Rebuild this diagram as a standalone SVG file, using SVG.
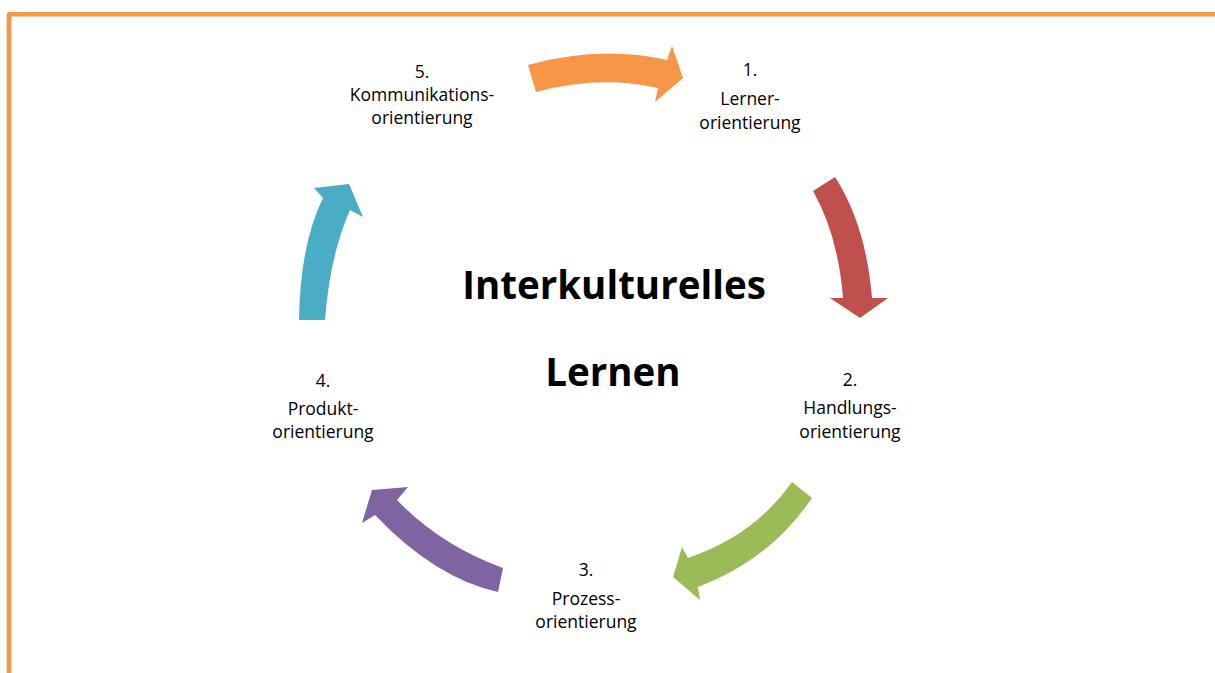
<svg xmlns="http://www.w3.org/2000/svg" width="1215" height="673" viewBox="0 0 1215 673">
<style>
.lbl{font-family:"Open Sans","Liberation Sans",sans-serif;font-size:17.5px;fill:#000;text-anchor:middle}
.title{font-family:"Open Sans","Liberation Sans",sans-serif;font-size:38.5px;font-weight:bold;fill:#000;text-anchor:middle}
</style>
<rect width="1215" height="673" fill="#fff"/>
<path d="M9,673 L9,14.3 L1215,14.3" fill="none" stroke="#F79646" stroke-width="4.6" stroke-linejoin="round"/>
<g id="connectors">
<path id="arrow-5-1" d="M528,65 Q600,45 667,60 L672,46 L683,78 L655,102 L658,88 Q600,75 536,92 Z" fill="#F79646"/>
<path id="arrow-1-2" d="M835,177 Q866,225 872,298 L888,298 L860,318 L830,298 L843,298 Q838,235 813,191 Z" fill="#C0504D"/>
<path id="arrow-2-3" d="M812,498 Q770,560 698,587 L700,600 L673,577 L682,547 L688,558 Q755,535 792,482 Z" fill="#9BBB59"/>
<path id="arrow-3-4" d="M503,568 Q440,545 397,500 L408,487 L372,490 L362,523 L375,515 Q435,578 498,592 Z" fill="#8064A2"/>
<path id="arrow-4-5" d="M299,320 Q300,245 323,198 L314,188 L349,184 L363,217 L350,210 Q330,255 325,320 Z" fill="#4BACC6"/>
</g>
<g id="center">
<text class="title" x="614" y="299">Interkulturelles</text>
<text class="title" x="613" y="386">Lernen</text>
</g>
<g id="node1">
<text class="lbl" x="750" y="76">1.</text>
<text class="lbl" x="750" y="105">Lerner-</text>
<text class="lbl" x="750" y="129">orientierung</text>
</g>
<g id="node2">
<text class="lbl" x="850" y="386">2.</text>
<text class="lbl" x="850" y="414">Handlungs-</text>
<text class="lbl" x="850" y="438">orientierung</text>
</g>
<g id="node3">
<text class="lbl" x="586" y="576">3.</text>
<text class="lbl" x="586" y="605">Prozess-</text>
<text class="lbl" x="586" y="628">orientierung</text>
</g>
<g id="node4">
<text class="lbl" x="323" y="387">4.</text>
<text class="lbl" x="323" y="415">Produkt-</text>
<text class="lbl" x="323" y="438">orientierung</text>
</g>
<g id="node5">
<text class="lbl" x="422" y="78">5.</text>
<text class="lbl" x="422" y="101">Kommunikations-</text>
<text class="lbl" x="422" y="124">orientierung</text>
</g>
</svg>
